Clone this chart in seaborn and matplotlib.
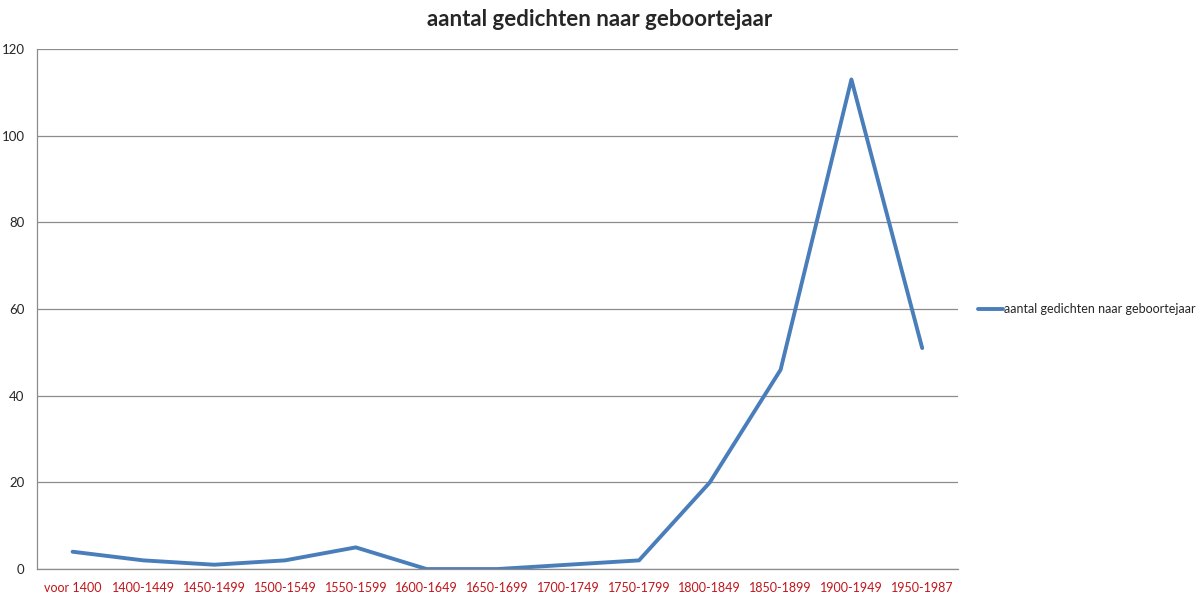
import numpy as np
import pandas as pd
import seaborn as sns
import matplotlib
matplotlib.use("Agg")
from matplotlib import pyplot as plt
from matplotlib.ticker import FixedLocator

periods = ['voor 1400', '1400-1449', '1450-1499', '1500-1549', '1550-1599',
           '1600-1649', '1650-1699', '1700-1749', '1750-1799', '1800-1849',
           '1850-1899', '1900-1949', '1950-1987']
counts = [4, 2, 1, 2, 5, 0, 0, 1, 2, 20, 46, 113, 51]
series_name = 'aantal gedichten naar geboortejaar'
y_ticks = [0, 20, 40, 60, 80, 100, 120]

sns.set_style("white")
plt.rcParams['font.family'] = ['Lato', 'DejaVu Sans']

df = pd.DataFrame({'periode': periods, 'aantal': counts})

fig = plt.figure(figsize=(12, 5.99), dpi=100)
ax = fig.add_axes([0.031, 0.050, 0.767, 0.868])

sns.lineplot(data=df, x='periode', y='aantal', ax=ax, color='#4A7EBB',
             linewidth=2.8, label=series_name, sort=False)

ax.set_xlim(-0.5, len(periods) - 0.5)
ax.set_ylim(0, 120)
ax.set_yticks(y_ticks)
ax.yaxis.grid(True, color='#8c8c8c', linewidth=0.9)
ax.set_axisbelow(True)

ax.set_xticks(range(len(periods)))
ax.set_xticklabels(periods, color='#C0161B', fontsize=9)
ax.tick_params(axis='x', which='major', length=0, pad=9)
ax.xaxis.set_minor_locator(FixedLocator(np.arange(-0.5, len(periods), 1.0)))
ax.tick_params(axis='x', which='minor', length=5, color='#8c8c8c', width=0.9)
ax.tick_params(axis='y', length=5, color='#8c8c8c', width=0.9, labelsize=9.5, pad=4)

for side in ['top', 'right']:
    ax.spines[side].set_visible(False)
for side in ['left', 'bottom']:
    ax.spines[side].set_color('#8c8c8c')
    ax.spines[side].set_linewidth(0.9)

ax.set_xlabel('')
ax.set_ylabel('')

ax.legend(loc='center left', bbox_to_anchor=(1.01, 0.5), frameon=False,
          fontsize=9, handlelength=2.0, handletextpad=0.1)

fig.suptitle(series_name, x=0.5, y=0.985, fontsize=16, fontweight='bold')

fig.savefig('out.png', dpi=100)
